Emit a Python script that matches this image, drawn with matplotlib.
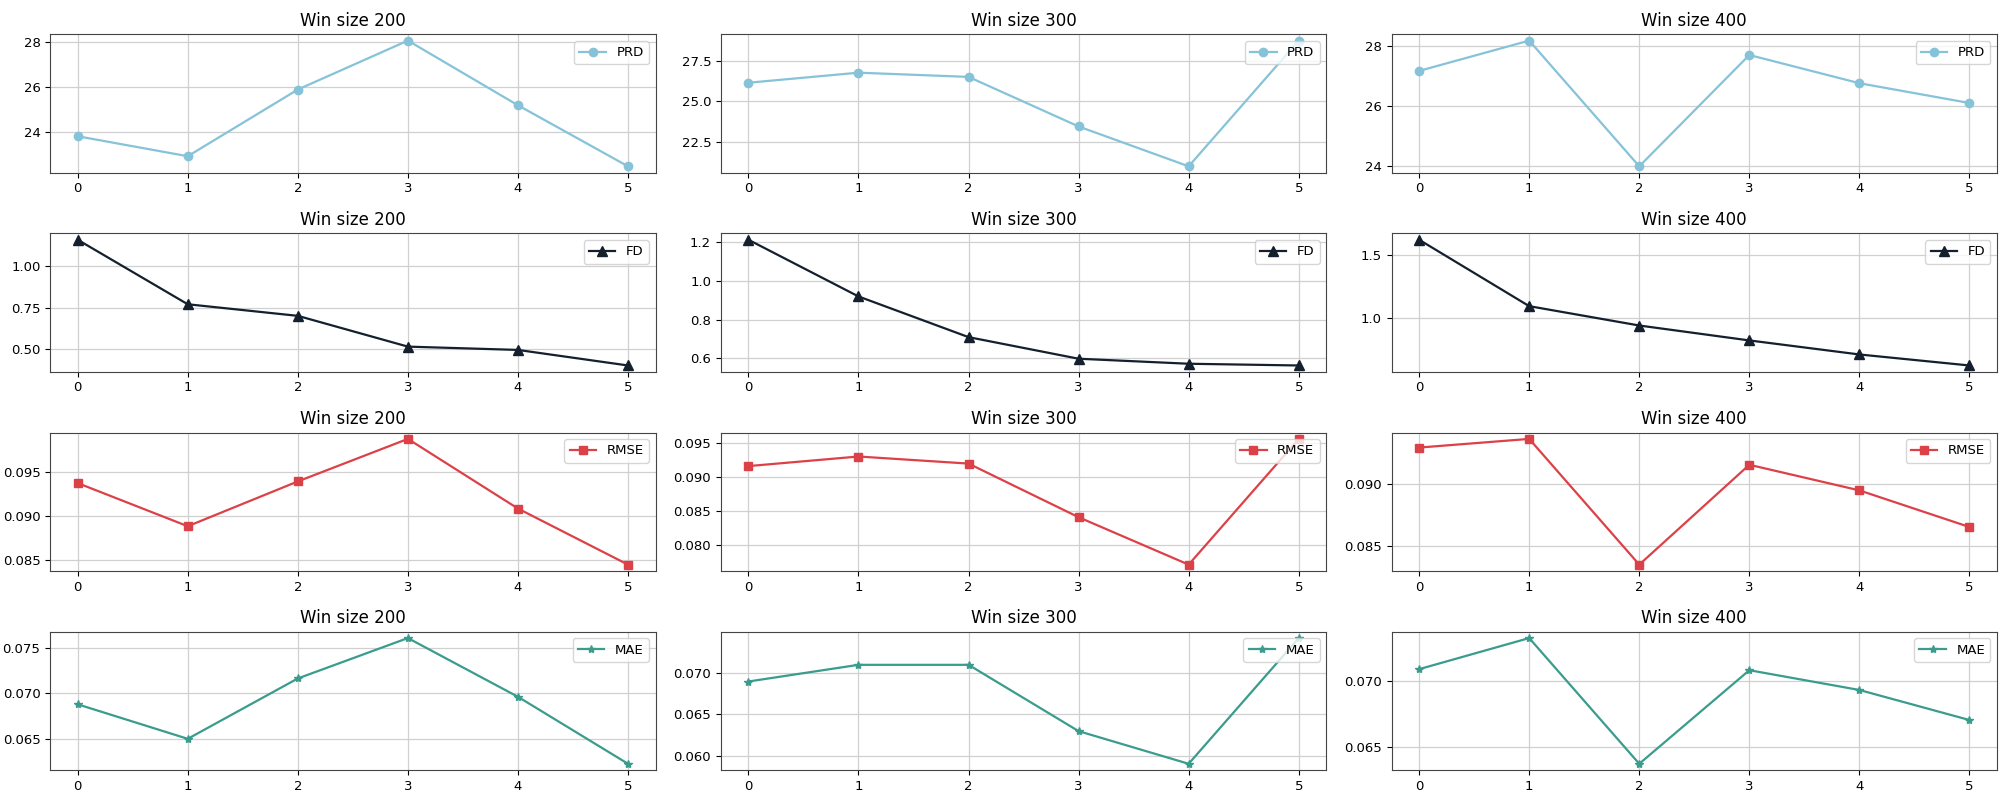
import matplotlib
matplotlib.use("Agg")
import matplotlib.pyplot as plt
from matplotlib.ticker import MultipleLocator

steps = [0, 1, 2, 3, 4, 5]
win_sizes = [200, 300, 400]

prd_200 = [23.82, 22.93, 25.90, 28.08, 25.20, 22.48]
prd_300 = [26.14, 26.76, 26.50, 23.44, 20.98, 28.74]
prd_400 = [27.16, 28.17, 23.98, 27.69, 26.75, 26.09]

fd_200 = [1.16, 0.77, 0.70, 0.514, 0.494, 0.40]
fd_300 = [1.214, 0.92, 0.709, 0.597, 0.571, 0.562]
fd_400 = [1.62, 1.095, 0.942, 0.824, 0.713, 0.626]

rmse_200 = [0.09375, 0.08882, 0.09394, 0.0988, 0.09084, 0.08443]
rmse_300 = [0.09163, 0.09305, 0.0920, 0.08405, 0.07702, 0.09566]
rmse_400 = [0.09298, 0.09368, 0.08352, 0.09159, 0.08952, 0.08656]

mae_200 = [0.0688, 0.0650, 0.07165, 0.0761, 0.06963, 0.06225]
mae_300 = [0.06897, 0.07099, 0.07099, 0.06296, 0.05901, 0.07423]
mae_400 = [0.07089, 0.07325, 0.06371, 0.07081, 0.06931, 0.06703]

metrics = ["PRD", "FD", "RMSE", "MAE"]
series = [
    [prd_200, prd_300, prd_400],
    [fd_200, fd_300, fd_400],
    [rmse_200, rmse_300, rmse_400],
    [mae_200, mae_300, mae_400],
]
colors = ["#86c3d9", "#14202e", "#dc4148", "#3a9c8c"]
markers = ["o", "^", "s", "*"]
msizes = [6, 7, 6, 6]
# y tick spacing per panel (row = metric, col = win size)
ystep = [[2, 2.5, 2],
         [0.25, 0.2, 0.5],
         [0.005, 0.005, 0.005],
         [0.005, 0.005, 0.005]]

fig, axes = plt.subplots(4, 3, figsize=(20.07, 7.98), dpi=100)
fig.subplots_adjust(left=0.025, right=0.995, top=0.957, bottom=0.035,
                    wspace=0.108, hspace=0.44)

for i in range(4):
    for j in range(3):
        ax = axes[i, j]
        ax.plot(steps, series[i][j], color=colors[i], marker=markers[i],
                markersize=msizes[i], linewidth=1.6, label=metrics[i])
        ax.set_title("Win size %d" % win_sizes[j], fontsize=12)
        ax.yaxis.set_major_locator(MultipleLocator(ystep[i][j]))
        ax.grid(True, color="#d0d0d0", linewidth=0.9)
        ax.tick_params(labelsize=9.5)
        ax.legend(loc="upper right", fontsize=9.5)
        for s in ax.spines.values():
            s.set_color("#444444")

plt.savefig("out.png")
